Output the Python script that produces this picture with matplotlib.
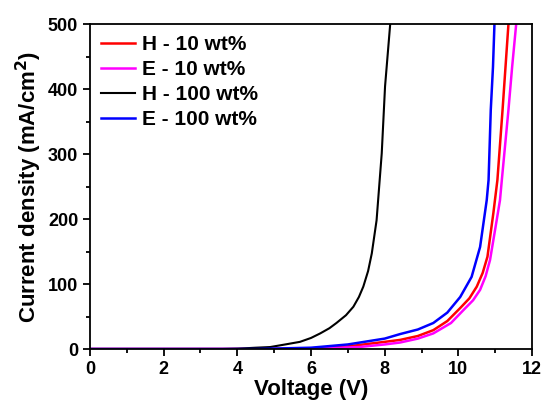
import matplotlib
matplotlib.use("Agg")
import matplotlib.pyplot as plt
from matplotlib.ticker import MultipleLocator

plt.rcParams['font.family'] = ['Liberation Sans', 'DejaVu Sans']
plt.rcParams['font.weight'] = 'bold'

# J-V curves
h10_v = [0, 5.0, 6.0, 7.0, 8.0, 8.42, 8.9, 9.32, 9.7, 10.05, 10.3, 10.5, 10.66, 10.79, 10.95, 11.06, 11.2, 11.28, 11.36]
h10_j = [0, 0, 1, 4, 11, 14, 20, 29, 43, 63, 78, 96, 117, 142, 209, 260, 368, 434, 500]

e10_v = [0, 5.3, 6.3, 7.3, 8.0, 8.42, 8.9, 9.32, 9.8, 10.14, 10.4, 10.59, 10.74, 10.86, 11.04, 11.13, 11.18, 11.36, 11.46, 11.57]
e10_j = [0, 0, 1, 3, 7, 10, 16, 24, 40, 60, 75, 91, 112, 137, 198, 229, 260, 368, 434, 500]

h100_v = [0, 3.6, 4.0, 4.5, 4.89, 5.3, 5.7, 6.0, 6.25, 6.5, 6.69, 6.95, 7.15, 7.3, 7.42, 7.55, 7.65, 7.78, 7.92, 8.01, 8.15]
h100_j = [0, 0, 0.5, 2, 3, 7, 11, 17, 24, 32, 40, 52, 65, 80, 96, 120, 147, 198, 301, 404, 500]

e100_v = [0, 4.5, 6.0, 7.0, 8.0, 8.42, 8.9, 9.32, 9.7, 10.05, 10.36, 10.59, 10.72, 10.77, 10.82, 10.88, 10.94, 10.98]
e100_j = [0, 0, 2, 7, 16, 23, 30, 40, 56, 80, 111, 157, 209, 229, 260, 368, 434, 500]

fig = plt.figure(figsize=(5.44, 4.07), dpi=100)
ax = fig.add_axes([0.1654, 0.1425, 0.8126, 0.7985])

ax.plot(h10_v, h10_j, color='#ff0000', lw=1.8, label='H - 10 wt%')
ax.plot(e10_v, e10_j, color='#ff00ff', lw=1.8, label='E - 10 wt%')
ax.plot(h100_v, h100_j, color='black', lw=1.5, label='H - 100 wt%')
ax.plot(e100_v, e100_j, color='#0000ff', lw=1.8, label='E - 100 wt%')

ax.set_xlim(0, 12)
ax.set_ylim(0, 500)
ax.xaxis.set_major_locator(MultipleLocator(2))
ax.xaxis.set_minor_locator(MultipleLocator(1))
ax.yaxis.set_major_locator(MultipleLocator(100))
ax.yaxis.set_minor_locator(MultipleLocator(50))
ax.tick_params(which='both', direction='out', width=1.3, labelsize=13)
ax.tick_params(which='major', length=5)
ax.tick_params(which='minor', length=3)
for sp in ax.spines.values():
    sp.set_linewidth(1.3)

ax.set_xlabel('Voltage (V)', fontsize=16, fontweight='bold', labelpad=1)
ax.set_ylabel('Current density (mA/cm$^\\mathbf{2}$)', fontsize=16, fontweight='bold', labelpad=3)

ax.legend(loc='upper left', frameon=False, fontsize=15, handlelength=1.6,
          handletextpad=0.35, labelspacing=0.28, borderaxespad=0.2,
          borderpad=0.35)

fig.savefig('out.png', dpi=100)
